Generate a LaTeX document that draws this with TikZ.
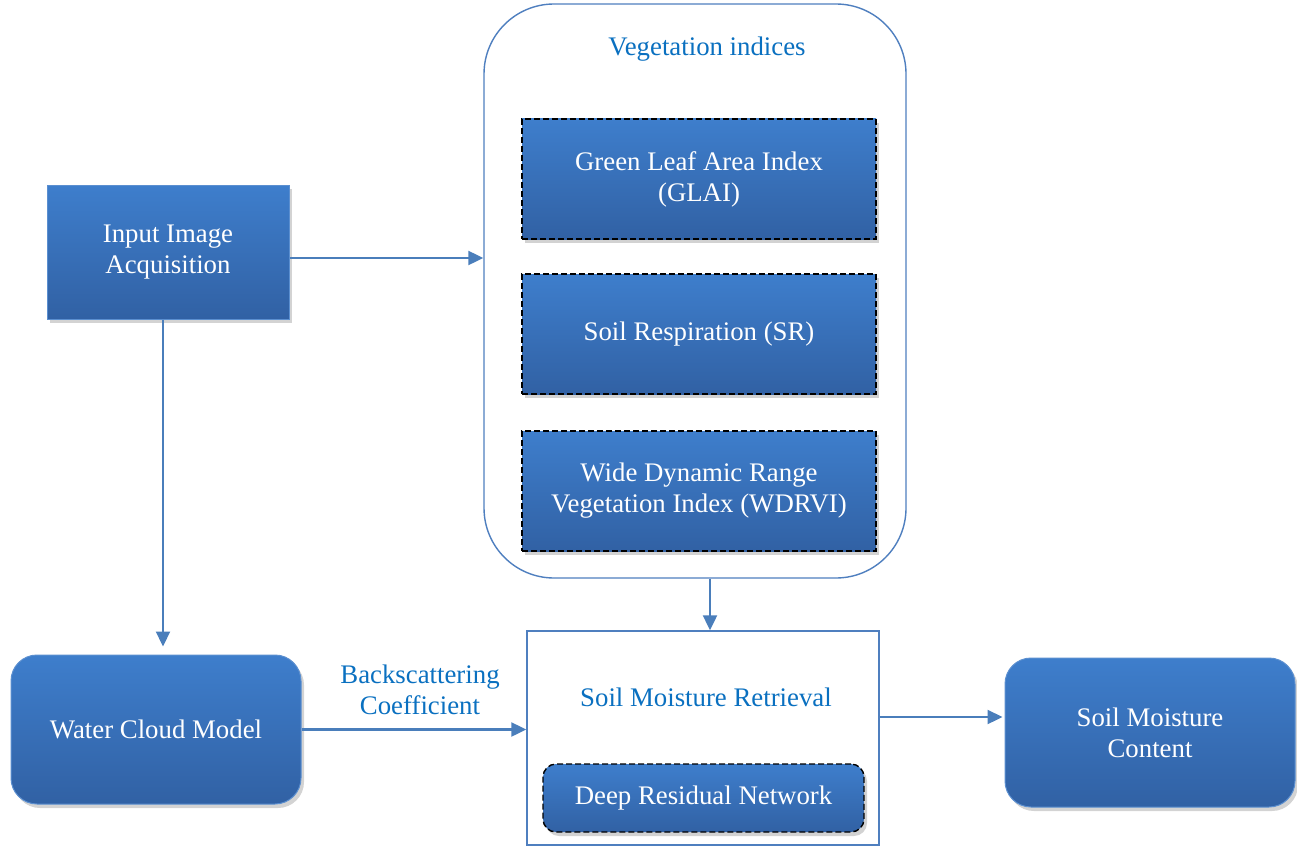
\documentclass[tikz,border=0pt]{standalone}
\usepackage{fontspec}
\setmainfont{Liberation Serif}
\usetikzlibrary{shadows,arrows.meta,calc}
\definecolor{boxtop}{HTML}{3E7ECC}
\definecolor{boxbot}{HTML}{3161A4}
\definecolor{boxedge}{HTML}{5B8FD0}
\definecolor{titleblue}{HTML}{0A70C0}
\definecolor{linkblue}{HTML}{4A7EBB}
\definecolor{frameblue}{HTML}{4F7FBF}
\begin{document}
\begin{tikzpicture}[x=1pt,y=-1pt,
  every node/.style={font=\rmfamily\fontsize{26.8}{31}\selectfont, align=center, inner sep=0pt},
  bluebox/.style={top color=boxtop, bottom color=boxbot, draw=boxedge, line width=1pt, text=white,
    drop shadow={opacity=0.35, shadow xshift=3pt, shadow yshift=-4pt}},
  dashbox/.style={bluebox, draw=black, line width=1.4pt, dash pattern=on 6pt off 3pt},
  frame/.style={draw=frameblue, line width=1.4pt, fill=white},
  title/.style={text=titleblue},
  arr/.style={draw=linkblue, line width=2.2pt, -{Triangle[length=15pt,width=14pt]}}
]
\useasboundingbox (0,0) rectangle (1297,848);
% containers
\node[frame, rounded corners=70pt, minimum width=422pt, minimum height=574pt] (veg) at (695,291) {};
\node[title] (vegt) at (707,49) {Vegetation indices};
\node[frame, minimum width=352pt, minimum height=214pt] (smr) at (703,738) {};
\node[title] (smrt) at (706,697) {Soil Moisture Retrieval};
% boxes
\node[bluebox, minimum width=242pt, minimum height=134pt] (in) at (168,252) {Input Image\\Acquisition};
\node[dashbox, minimum width=354pt, minimum height=120pt] (glai) at (699,179) {Green Leaf Area Index\\(GLAI)};
\node[dashbox, minimum width=354pt, minimum height=120pt] (sr) at (699,334) {Soil Respiration (SR)};
\node[dashbox, minimum width=354pt, minimum height=120pt] (wdrvi) at (699,491) {Wide Dynamic Range\\Vegetation Index (WDRVI)};
\node[dashbox, rounded corners=13pt, minimum width=321pt, minimum height=68pt] (drn) at (703.5,798) {Deep Residual Network};
\node[bluebox, rounded corners=26pt, minimum width=290pt, minimum height=149pt] (wcm) at (156,729.5) {Water Cloud Model};
\node[bluebox, rounded corners=26pt, minimum width=290pt, minimum height=149pt] (smc) at (1150,732.5) {Soil Moisture\\Content};
% label
\node[title] (bc) at (420,690) {Backscattering\\Coefficient};
% connectors
\draw[arr] ([yshift=-6pt]in.east) -- ([yshift=-6pt]in.east -| veg.west);
\draw[arr, shorten >=8pt] ([xshift=-5pt]in.south) -- ([xshift=-5pt]in.south |- wcm.north);
\draw[arr] (wcm.east) -- (wcm.east -| smr.west);
\draw[arr] ([xshift=15pt]veg.south) -- ([xshift=15pt]veg.south |- smr.north);
\draw[arr, shorten >=2pt] ([yshift=21pt]smr.east) -- ([yshift=21pt]smr.east -| smc.west);
\end{tikzpicture}
\end{document}
